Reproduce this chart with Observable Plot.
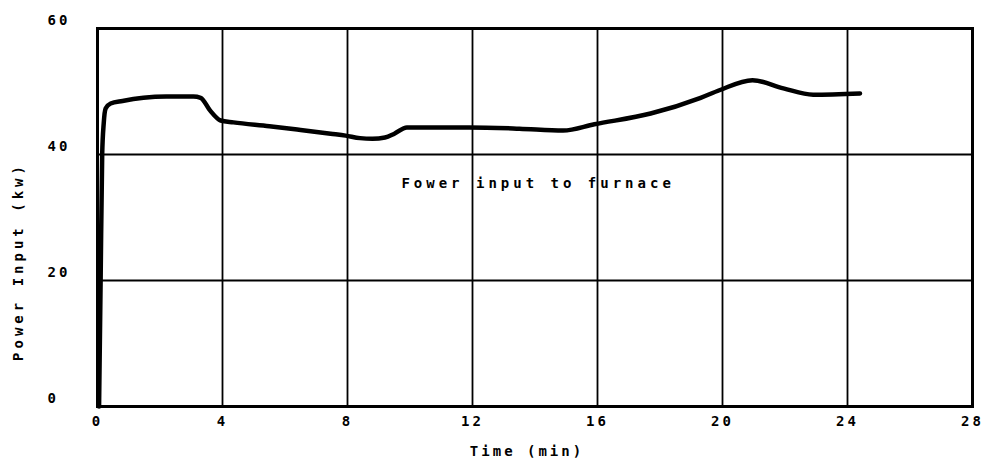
<!DOCTYPE html>
<html>
<head>
<meta charset="utf-8">
<script src="https://cdn.jsdelivr.net/npm/d3@7"></script>
<script src="https://cdn.jsdelivr.net/npm/@observablehq/plot@0.6"></script>
<style>
  html, body { margin: 0; padding: 0; background: #fff; }
  #chart svg { display: block; }
  #chart text { letter-spacing: 3px; }
</style>
</head>
<body>
<div id="chart"></div>
<script>
// Data
const timeMin = [0.05, 0.1, 0.15, 0.2, 0.26, 0.42, 0.8, 1.47, 2.2, 3.07, 3.3, 3.6, 3.94, 4.35, 5.5, 6.5, 7.46, 7.94, 8.4, 8.8, 9.2, 9.5, 9.9, 11.9, 13.5, 14.9, 15.9, 17.7, 19.3, 19.9, 20.96, 21.95, 22.9, 24.4];
const powerKw = [0, 20, 40, 45, 47.3, 48.1, 48.5, 49.0, 49.2, 49.2, 49.0, 47.0, 45.4, 45.1, 44.5, 43.9, 43.3, 43.0, 42.6, 42.5, 42.7, 43.3, 44.3, 44.3, 44.1, 43.8, 44.8, 46.5, 49.0, 50.2, 51.8, 50.5, 49.5, 49.7];
const xTicks = [0, 4, 8, 12, 16, 20, 24, 28];
const yTicks = [0, 20, 40, 60];
const xGrid = [4, 8, 12, 16, 20, 24];
const yGrid = [20, 40];
const xTitle = "Time (min)";
const yTitle = "Power Input (kw)";
const annotation = {t: 14.1, p: 35.4, text: "Fower input to furnace"};

const series = timeMin.map((t, i) => ({t, p: powerKw[i]}));
const font = "'DejaVu Sans Mono', monospace";

const chart = Plot.plot({
  width: 986,
  height: 469,
  marginLeft: 97,
  marginRight: 14,
  marginTop: 28,
  marginBottom: 63,
  style: {fontFamily: font, fontSize: "14px", fontWeight: "bold", color: "#000", background: "#fff"},
  x: {domain: [0, 28]},
  y: {domain: [0, 60]},
  marks: [
    Plot.ruleX(xGrid, {stroke: "#000", strokeWidth: 1.8}),
    Plot.ruleY(yGrid, {stroke: "#000", strokeWidth: 2.2}),
    Plot.frame({stroke: "#000", strokeWidth: 3}),
    Plot.line(series, {x: "t", y: "p", stroke: "#000", strokeWidth: 4.5, curve: "monotone-x", strokeLinejoin: "round", strokeLinecap: "round"}),
    Plot.text([annotation], {x: "t", y: "p", text: "text", fontSize: 14, fontWeight: "bold", fill: "#000", fontFamily: font}),
    Plot.axisX(xTicks, {tickSize: 0, tickPadding: 10, label: null, fontSize: 14, fontWeight: "bold", fill: "#000"}),
    Plot.axisY(yTicks, {tickSize: 0, tickPadding: 50, textAnchor: "start", label: null, dy: -8, fontSize: 14, fontWeight: "bold", fill: "#000"}),
    Plot.text([xTitle], {frameAnchor: "bottom", dy: 49, dx: -8, text: d => d, fontSize: 14, fontWeight: "bold", fill: "#000", fontFamily: font}),
    Plot.text([yTitle], {frameAnchor: "left", textAnchor: "middle", dx: -79, dy: 44, rotate: -90, text: d => d, fontSize: 14, fontWeight: "bold", fill: "#000", fontFamily: font})
  ]
});
document.getElementById("chart").appendChild(chart);
d3.select(chart).selectAll("text")
  .filter(function () { return this.textContent === yTitle || this.textContent === annotation.text; })
  .style("letter-spacing", "4px");
</script>
</body>
</html>
